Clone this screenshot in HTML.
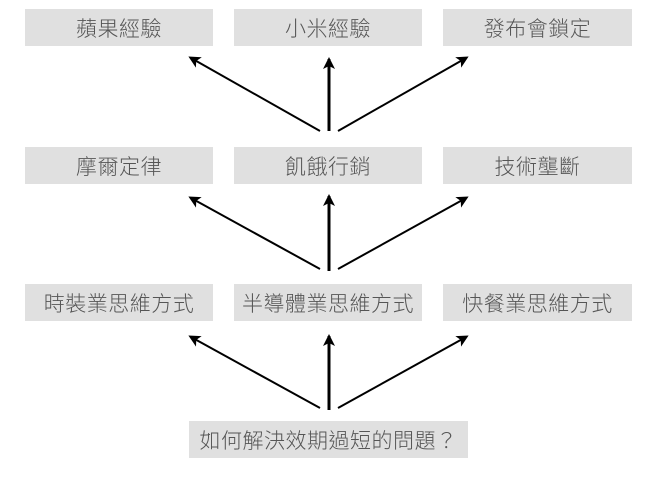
<!DOCTYPE html>
<html><head><meta charset="utf-8"><style>
body{margin:0;width:659px;height:480px;background:#fff;position:relative;overflow:hidden;font-family:"Liberation Sans","Noto Sans CJK TC",sans-serif}
.b{position:absolute;background:#e0e0e0;color:#555;font-size:21px;font-weight:300;display:flex;align-items:center;justify-content:center;letter-spacing:0.5px}
svg{position:absolute;left:0;top:0}
</style></head><body>
<div class="b" style="left:25px;top:9px;width:188px;height:37px">蘋果經驗</div>
<div class="b" style="left:234px;top:9px;width:188px;height:37px">小米經驗</div>
<div class="b" style="left:443px;top:9px;width:189px;height:37px">發布會鎖定</div>
<div class="b" style="left:25px;top:147px;width:188px;height:37px">摩爾定律</div>
<div class="b" style="left:234px;top:147px;width:188px;height:37px">飢餓行銷</div>
<div class="b" style="left:443px;top:147px;width:189px;height:37px">技術壟斷</div>
<div class="b" style="left:25px;top:284px;width:188px;height:37px">時裝業思維方式</div>
<div class="b" style="left:234px;top:284px;width:188px;height:37px">半導體業思維方式</div>
<div class="b" style="left:443px;top:284px;width:189px;height:37px">快餐業思維方式</div>
<div class="b" style="left:189px;top:421px;width:279px;height:37px">如何解決效期過短的問題？</div>
<svg width="659" height="480">
<defs><marker id="a" markerWidth="12" markerHeight="12" refX="9" refY="6" orient="auto" markerUnits="userSpaceOnUse"><path d="M0,0 L12,6 L0,12 L3,6 z" fill="#000"/></marker>
<marker id="c" markerWidth="12" markerHeight="14" refX="10" refY="6" orient="auto" markerUnits="userSpaceOnUse"><path d="M0,0 L12,6 L0,12 L3,6 z" fill="#000"/></marker></defs>
<g stroke="#000" stroke-width="2" fill="none">
<line x1="320" y1="131" x2="191" y2="58" marker-end="url(#a)"/>
<line x1="329" y1="131" x2="329" y2="59" stroke-width="3" marker-end="url(#c)"/>
<line x1="338" y1="131" x2="466" y2="58" marker-end="url(#a)"/>
<line x1="320" y1="269" x2="191" y2="198" marker-end="url(#a)"/>
<line x1="329" y1="271" x2="329" y2="196" stroke-width="3" marker-end="url(#c)"/>
<line x1="338" y1="269" x2="466" y2="198" marker-end="url(#a)"/>
<line x1="320" y1="408" x2="191" y2="337" marker-end="url(#a)"/>
<line x1="329" y1="410" x2="329" y2="336" stroke-width="3" marker-end="url(#c)"/>
<line x1="338" y1="408" x2="466" y2="337" marker-end="url(#a)"/>
</g></svg>
</body></html>
